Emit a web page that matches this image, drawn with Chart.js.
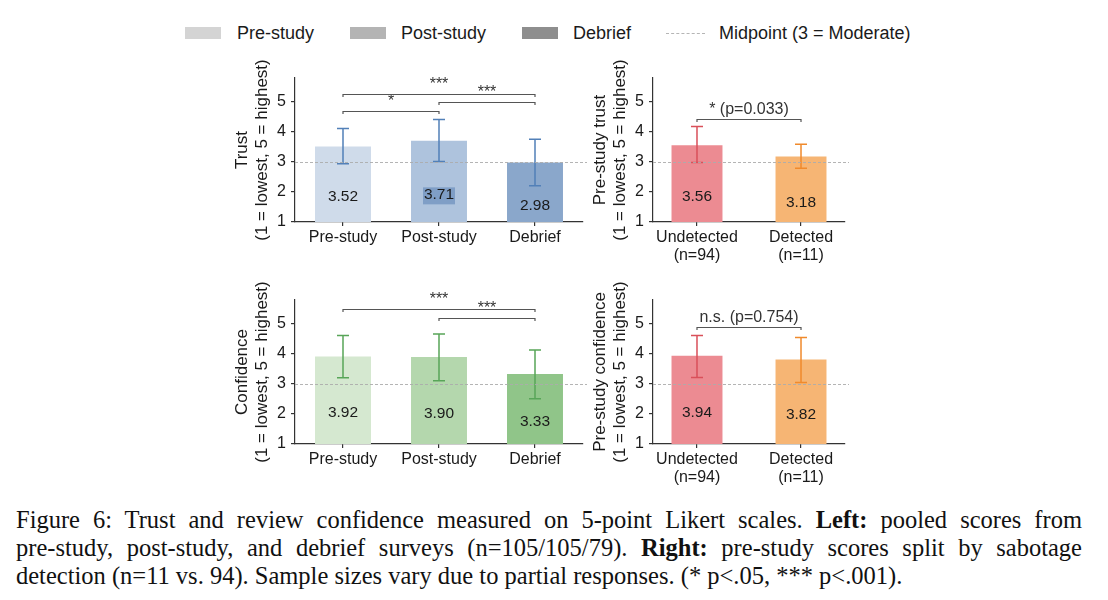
<!DOCTYPE html>
<html>
<head>
<meta charset="utf-8">
<script src="https://cdn.jsdelivr.net/npm/chart.js@4.4.1/dist/chart.umd.min.js"></script>
<style>
  body { margin: 0; background: #fff; width: 1108px; height: 600px; position: relative; overflow: hidden;
         font-family: "Liberation Sans", Arial, sans-serif; color: #1a1a1a; }
  .panel { position: absolute; }
  .lbox { position: absolute; top: 27px; width: 36px; height: 12px; }
  .ltxt { position: absolute; top: 23px; font-size: 18px; line-height: 20px; white-space: nowrap; }
  #cap { position: absolute; left: 16px; top: 506px; width: 1066px; font-family: "Liberation Serif", "Times New Roman", serif;
         font-size: 24.5px; line-height: 28px; color: #111; }
  #cap .j { text-align: justify; text-align-last: justify; white-space: nowrap; }
</style>
</head>
<body>

<div class="lbox" style="left:185px;background:#d4d4d4"></div><span class="ltxt" style="left:237px">Pre-study</span>
<div class="lbox" style="left:350px;background:#b4b4b4"></div><span class="ltxt" style="left:401px">Post-study</span>
<div class="lbox" style="left:522px;background:#8e8e8e"></div><span class="ltxt" style="left:573px">Debrief</span>
<div style="position:absolute;left:666px;top:33px;width:39px;border-top:1px dashed #b5b5b5"></div><span class="ltxt" style="left:719px">Midpoint (3 = Moderate)</span>

<canvas id="trustChart" class="panel" width="372" height="224" style="left:220px;top:48px"></canvas>
<canvas id="splitTrustChart" class="panel" width="275" height="224" style="left:580px;top:48px"></canvas>
<canvas id="confChart" class="panel" width="372" height="224" style="left:220px;top:270px"></canvas>
<canvas id="splitConfChart" class="panel" width="275" height="224" style="left:580px;top:270px"></canvas>

<div id="cap">
  <div class="j">Figure 6: Trust and review confidence measured on 5-point Likert scales. <b>Left:</b> pooled scores from</div>
  <div class="j">pre-study, post-study, and debrief surveys (n=105/105/79). <b>Right:</b> pre-study scores split by sabotage</div>
  <div>detection (n=11 vs. 94). Sample sizes vary due to partial responses. (* p&lt;.05, *** p&lt;.001).</div>
</div>

<script>
// ----- Data -----
const surveyLabels = ["Pre-study", "Post-study", "Debrief"];
const splitLabels = [["Undetected", "(n=94)"], ["Detected", "(n=11)"]];
const yTicks = [1, 2, 3, 4, 5];
const midpoint = 3;

const trustMeans = [3.52, 3.71, 2.98];
const trustLow = [2.94, 3.02, 2.21];
const trustHigh = [4.12, 4.42, 3.76];
const trustPairs = [[0, 1], [1, 2], [0, 2]];
const trustPairY = [4.69, 4.99, 5.28];
const trustPairText = ["*", "***", "***"];

const confMeans = [3.92, 3.90, 3.33];
const confLow = [3.21, 3.11, 2.51];
const confHigh = [4.62, 4.67, 4.13];
const confPairs = [[1, 2], [0, 2]];
const confPairY = [5.20, 5.49];
const confPairText = ["***", "***"];

const splitTrustMeans = [3.56, 3.18];
const splitTrustLow = [2.98, 2.79];
const splitTrustHigh = [4.18, 3.59];
const splitTrustPairs = [[0, 1]];
const splitTrustPairY = [4.44];
const splitTrustPairText = ["* (p=0.033)"];

const splitConfMeans = [3.94, 3.82];
const splitConfLow = [3.22, 3.05];
const splitConfHigh = [4.62, 4.55];
const splitConfPairs = [[0, 1]];
const splitConfPairY = [4.90];
const splitConfPairText = ["n.s. (p=0.754)"];

const FONT = '"Liberation Sans", Arial, sans-serif';

// error bars, midpoint line, value labels, brackets and y titles
const overlay = {
  id: "overlay",
  afterDatasetsDraw(chart, args, o) {
    const { ctx, chartArea: a, scales: { x, y } } = chart;
    ctx.save();

    // error bars
    ctx.lineWidth = 1.5;
    o.low.forEach((lo, i) => {
      const cx = x.getPixelForValue(i);
      const y1 = y.getPixelForValue(lo);
      const y2 = y.getPixelForValue(o.high[i]);
      ctx.strokeStyle = o.errColors[i];
      ctx.beginPath();
      ctx.moveTo(cx, y1); ctx.lineTo(cx, y2);
      ctx.moveTo(cx - 6, y1); ctx.lineTo(cx + 6, y1);
      ctx.moveTo(cx - 6, y2); ctx.lineTo(cx + 6, y2);
      ctx.stroke();
    });

    // midpoint
    const ym = Math.round(y.getPixelForValue(midpoint)) + 0.5;
    ctx.strokeStyle = "#ababab";
    ctx.lineWidth = 0.9;
    ctx.setLineDash([3, 2]);
    ctx.beginPath(); ctx.moveTo(a.left, ym); ctx.lineTo(a.right + 4, ym); ctx.stroke();
    ctx.setLineDash([]);

    // value labels inside bars
    ctx.font = "15.5px " + FONT;
    ctx.textAlign = "center";
    ctx.textBaseline = "middle";
    o.means.forEach((v, i) => {
      const cx = x.getPixelForValue(i);
      const cy = y.getPixelForValue(v / 2) - 2;
      if (o.boxIndex === i) {
        ctx.fillStyle = o.boxColor;
        ctx.fillRect(cx - 16, cy - 7, 32, 17);
      }
      ctx.fillStyle = "#1a1a1a";
      ctx.fillText(v.toFixed(2), cx, cy);
    });

    // significance brackets
    ctx.font = "16px " + FONT;
    ctx.textBaseline = "alphabetic";
    o.pairs.forEach(([i, j], k) => {
      const x1 = x.getPixelForValue(i);
      const x2 = x.getPixelForValue(j);
      const by = Math.round(y.getPixelForValue(o.pairY[k])) + 0.5;
      ctx.strokeStyle = "#555";
      ctx.lineWidth = 1.2;
      ctx.beginPath();
      ctx.moveTo(x1, by + 2.5); ctx.lineTo(x1, by); ctx.lineTo(x2, by); ctx.lineTo(x2, by + 2.5);
      ctx.stroke();
      ctx.fillStyle = "#333";
      ctx.fillText(o.pairText[k], (x1 + x2) / 2, by - 6);
    });

    // y axis title (two lines)
    ctx.fillStyle = "#1a1a1a";
    ctx.font = "17px " + FONT;
    ctx.textBaseline = "middle";
    const cy = (a.top + a.bottom) / 2;
    o.title.forEach((t, k) => {
      ctx.save();
      ctx.translate(a.left - o.titleGap[k], cy);
      ctx.rotate(-Math.PI / 2);
      ctx.fillText(t, 0, 0);
      ctx.restore();
    });
    ctx.restore();
  }
};

function buildPanel(id, p) {
  const tickFont = { family: FONT, size: 16, lineHeight: 1.12 };
  const axisGrid = { drawOnChartArea: false, drawTicks: true, tickLength: 4, color: "#333", lineWidth: 1.2, offset: false };
  const xScale = p.split
    ? {
        type: "linear", min: -0.423, max: 1.423, offset: false,
        afterBuildTicks: ax => { ax.ticks = p.labels.map((_, i) => ({ value: i })); },
        ticks: { callback: v => p.labels[v], font: tickFont, color: "#1a1a1a", padding: 3, maxRotation: 0, autoSkip: false },
        grid: axisGrid, border: { color: "#333", width: 1.2 },
        afterFit: s => { s.height = 50; }
      }
    : {
        type: "category", offset: true,
        ticks: { font: tickFont, color: "#1a1a1a", padding: 3, maxRotation: 0, autoSkip: false },
        grid: axisGrid, border: { color: "#333", width: 1.2 },
        afterFit: s => { s.height = 50; }
      };

  return new Chart(document.getElementById(id), {
    type: "bar",
    data: {
      labels: p.split ? undefined : p.labels,
      datasets: [{
        data: p.split ? p.means.map((v, i) => ({ x: i, y: v })) : p.means,
        backgroundColor: p.colors,
        borderWidth: 0,
        barPercentage: 1,
        categoryPercentage: p.barFrac
      }]
    },
    options: {
      responsive: false,
      animation: false,
      layout: { padding: { top: 30, right: p.padRight, left: 0, bottom: 0 } },
      plugins: {
        legend: { display: false },
        tooltip: { enabled: false },
        overlay: {
          means: p.means, low: p.low, high: p.high, errColors: p.errColors,
          pairs: p.pairs, pairY: p.pairY, pairText: p.pairText,
          title: p.title, titleGap: [53, 32.5],
          boxIndex: p.boxIndex, boxColor: p.boxColor
        }
      },
      scales: {
        x: xScale,
        y: {
          type: "linear", min: 1, max: 5.8,
          afterBuildTicks: ax => { ax.ticks = yTicks.map(v => ({ value: v })); },
          ticks: { font: { family: FONT, size: 16 }, color: "#1a1a1a", padding: 5 },
          grid: axisGrid, border: { color: "#333", width: 1.2 },
          afterFit: s => { s.width = p.yWidth; }
        }
      }
    },
    plugins: [overlay]
  });
}

const blueErr = "#5280b8", greenErr = "#58a558", redErr = "#d9505a", orangeErr = "#f08a2c";

buildPanel("trustChart", {
  labels: surveyLabels, means: trustMeans, low: trustLow, high: trustHigh,
  pairs: trustPairs, pairY: trustPairY, pairText: trustPairText,
  colors: ["#cfdbea", "#aec3dd", "#8aa7cb"], errColors: [blueErr, blueErr, blueErr],
  title: ["Trust", "(1 = lowest, 5 = highest)"],
  boxIndex: 1, boxColor: "#7f9ec6",
  barFrac: 0.583, yWidth: 75, padRight: 9
});

buildPanel("splitTrustChart", {
  split: true, labels: splitLabels, means: splitTrustMeans, low: splitTrustLow, high: splitTrustHigh,
  pairs: splitTrustPairs, pairY: splitTrustPairY, pairText: splitTrustPairText,
  colors: ["#ec8b92", "#f6b574"], errColors: [redErr, orangeErr],
  title: ["Pre-study trust", "(1 = lowest, 5 = highest)"],
  barFrac: 0.49, yWidth: 73, padRight: 10
});

buildPanel("confChart", {
  labels: surveyLabels, means: confMeans, low: confLow, high: confHigh,
  pairs: confPairs, pairY: confPairY, pairText: confPairText,
  colors: ["#d5e8d0", "#b4d7ad", "#90c589"], errColors: [greenErr, greenErr, greenErr],
  title: ["Confidence", "(1 = lowest, 5 = highest)"],
  barFrac: 0.583, yWidth: 75, padRight: 9
});

buildPanel("splitConfChart", {
  split: true, labels: splitLabels, means: splitConfMeans, low: splitConfLow, high: splitConfHigh,
  pairs: splitConfPairs, pairY: splitConfPairY, pairText: splitConfPairText,
  colors: ["#ec8b92", "#f6b574"], errColors: [redErr, orangeErr],
  title: ["Pre-study confidence", "(1 = lowest, 5 = highest)"],
  barFrac: 0.49, yWidth: 73, padRight: 10
});
</script>
</body>
</html>
